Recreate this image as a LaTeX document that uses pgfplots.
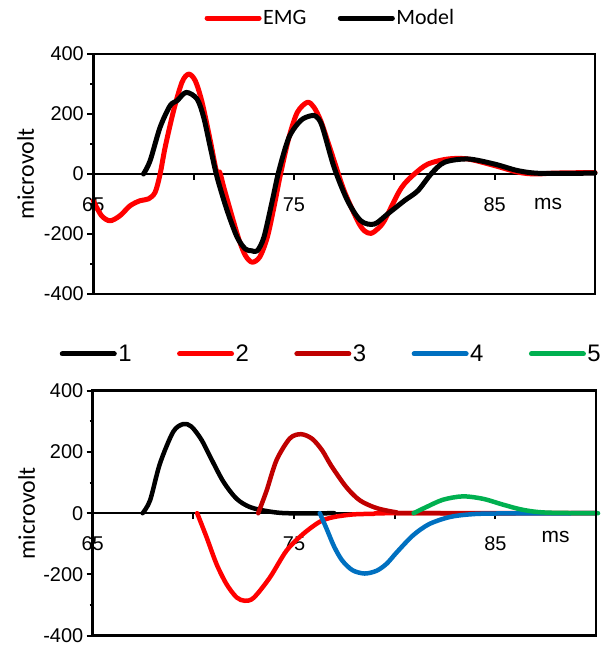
\documentclass[border=0pt]{standalone}
\usepackage{fontspec}
\setmainfont{Liberation Sans}
\newfontfamily\calibri{Carlito}
\usepackage{pgfplots}
\pgfplotsset{compat=1.18}
\definecolor{xlred}{HTML}{FF0000}
\definecolor{xldark}{HTML}{C00000}
\definecolor{xlblue}{HTML}{0070C0}
\definecolor{xlgreen}{HTML}{00B050}

\pgfplotsset{
  emgpanel/.style={
    scale only axis,
    xmin=65, xmax=90, ymin=-400, ymax=400,
    axis x line*=middle, axis y line*=left,
    hide obscured x ticks=false, hide obscured y ticks=false,
    axis line style={line width=2.5bp},
    tick style={line width=2bp, black},
    tick align=outside,
    major tick length=6bp, minor tick length=3bp,
    xtick={65,70,75,80,85}, xticklabels={65,,75,,85},
    ytick={-400,-200,0,200,400},
    minor ytick={-300,-100,100,300},
    ticklabel style={font=\fontsize{20}{24}\selectfont},
    /pgf/number format/assume math mode=true,
    xticklabel style={yshift=-14bp},
    ylabel={microvolt},
    ylabel style={font=\calibri\fontsize{24}{28}\selectfont, anchor=center},
    clip=false,
    legend style={draw=none, fill=none, inner sep=0pt, anchor=center,
      nodes={inner sep=1.5bp}},
    legend image code/.code={\draw[#1, line width=5bp, line cap=round] (0bp,0bp) -- (52bp,0bp);},
    every axis plot/.append style={line width=5bp, line cap=round, line join=round, smooth, mark=none},
  }
}

\begin{document}
\begin{tikzpicture}
\path[use as bounding box] (0,0) rectangle (612bp,646bp);

% top: EMG vs model
\begin{axis}[emgpanel, at={(93.3bp,352bp)}, anchor=south west,
  width=501.7bp, height=240bp,
  ylabel style={at={(axis description cs:-0.135,0.5)}},
  legend columns=2,
  legend style={at={(axis description cs:0.472,1.15)},
    font=\calibri\fontsize{22}{26}\selectfont,
    /tikz/every even column/.append style={column sep=30bp}},
]
\addplot[xlred] coordinates {
(65,-89) (65.4,-138) (65.83,-156) (66.33,-139) (66.83,-106) (67.33,-89) (67.75,-83)
(68.08,-61) (68.33,0) (68.58,89) (69,211) (69.42,306) (69.75,333) (70.08,311)
(70.42,239) (70.83,111) (71.13,11) (71.3,6) (71.5,-44) (71.83,-122) (72.25,-217)
(72.58,-272) (72.92,-294) (73.3,-276) (73.67,-211) (74,-111) (74.33,0) (74.75,122)
(75.17,206) (75.67,239) (76,222) (76.33,178) (76.67,111) (77,44) (77.5,-56)
(78.17,-156) (78.5,-189) (78.83,-198) (79.17,-183) (79.5,-156) (80.17,-67) (80.5,-33)
(81,0) (81.67,33) (82.67,50) (83.67,50) (85,28) (86.17,6) (87,0) (88,3) (90,5)};
\addlegendentry{EMG}
\addplot[black] coordinates {
(67.5,0) (67.83,44) (68.33,156) (68.83,228) (69.17,244) (69.63,272) (70.17,250)
(70.5,189) (70.83,89) (71.17,-11) (71.67,-122) (72.17,-211) (72.58,-250) (72.9,-256)
(73.17,-256) (73.5,-211) (73.92,-89) (74.25,11) (74.75,122) (75.33,178) (75.83,194)
(76.1,192) (76.4,160) (77,22) (77.67,-89) (78.33,-156) (79,-167) (79.67,-133)
(80.5,-89) (81.17,-56) (81.83,0) (82.5,39) (83.67,50) (85,33) (86.17,11) (87.33,2) (90,3)};
\addlegendentry{Model}
\draw[line width=2.5bp] (rel axis cs:0,0) rectangle (rel axis cs:1,1);
\node[font=\fontsize{21}{25}\selectfont] at (axis cs:87.66,-99) {ms};
\end{axis}

% bottom: the five components
\begin{axis}[emgpanel, at={(92.7bp,10.3bp)}, anchor=south west,
  width=503.3bp, height=245bp,
  ylabel style={at={(axis description cs:-0.131,0.5)}},
  legend columns=5,
  legend style={at={(axis description cs:0.4735,1.15)},
    font=\fontsize{24}{28}\selectfont,
    /tikz/every even column/.append style={column sep=44bp}},
  every axis plot/.append style={line width=4.5bp},
]
\addplot[black] coordinates {
(67.48,0) (67.85,42) (68.34,162) (69.0,266) (69.5,291) (69.9,283) (70.4,240)
(70.9,176) (71.5,102) (72.15,47) (72.81,20) (73.64,7) (74.63,0) (77,0)};
\addlegendentry{1}
\addplot[xlred] coordinates {
(70.19,0) (70.66,-79) (71.15,-166) (71.65,-232) (72.15,-275) (72.56,-286) (73.0,-276)
(73.8,-210) (74.63,-122) (75.45,-68) (76.28,-28) (76.94,-13) (77.93,-4) (78.93,-2)
(80,0) (90,0)};
\addlegendentry{2}
\addplot[xldark] coordinates {
(73.22,0) (73.64,74) (74.13,173) (74.79,244) (75.35,258) (75.9,243) (76.4,205)
(76.85,155) (77.6,85) (78.27,42) (79.09,17) (80.08,3) (80.91,0) (90,0)};
\addlegendentry{3}
\addplot[xlblue] coordinates {
(76.28,0) (76.6,-48) (77.0,-110) (77.4,-155) (77.9,-186) (78.5,-197) (79.1,-188)
(79.6,-165) (80.1,-128) (80.9,-73) (81.7,-36) (82.7,-13) (83.7,-4) (85,-1) (90,0)};
\addlegendentry{4}
\addplot[xlgreen] coordinates {
(80.94,0) (81.57,20) (82.4,44) (83.39,55) (84.39,47) (85.38,28) (86.37,11)
(87.53,2) (90.1,0)};
\addlegendentry{5}
\draw[line width=2.5bp] (rel axis cs:0,0) rectangle (rel axis cs:1,1);
\node[font=\fontsize{21}{25}\selectfont] at (axis cs:87.99,-79) {ms};
\end{axis}
\end{tikzpicture}
\end{document}
